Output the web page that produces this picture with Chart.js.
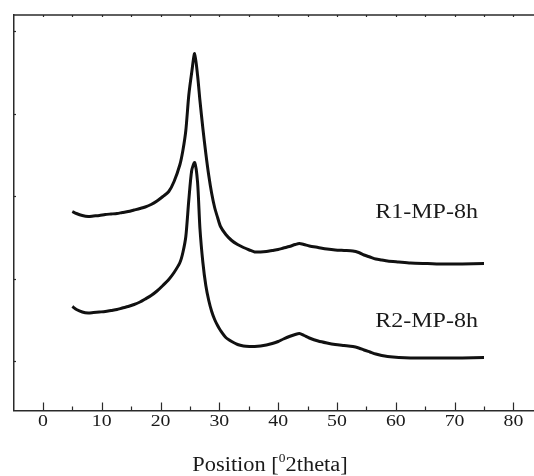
<!DOCTYPE html>
<html>
<head>
<meta charset="utf-8">
<script src="https://cdn.jsdelivr.net/npm/chart.js@4.4.1/dist/chart.umd.min.js"></script>
<style>
  html, body { margin: 0; padding: 0; background: #fff; }
  #wrap { width: 534px; height: 476px; font-family: 'Liberation Serif', serif; }
</style>
</head>
<body>
<div id="wrap"><canvas id="xrd"></canvas></div>
<script>
// ── Data (intensity in arbitrary units) ──
const twoTheta = [5.0, 5.7, 6.7, 7.7, 8.6, 9.6, 10.6, 11.6, 12.6, 13.5,
  14.5, 15.5, 16.5, 17.4, 18.4, 19.4, 20.4, 21.4, 22.3, 23.3,
  23.8, 24.3, 24.8, 25.3, 25.8, 26.3, 26.7, 27.2, 27.7, 28.2,
  28.7, 29.2, 29.7, 30.2, 31.1, 32.1, 33.1, 34.1, 35.1, 36.0,
  37.0, 38.0, 39.0, 40.0, 40.9, 41.9, 42.9, 43.6, 44.4, 45.3,
  46.8, 48.3, 49.7, 51.2, 52.7, 53.7, 54.6, 55.6, 56.6, 57.6,
  58.6, 60.5, 62.5, 65.4, 68.3, 71.3, 75.0];

const r1 = [199, 197, 195, 194, 194.5, 195, 196, 196.5, 197, 198,
  199, 200.5, 202, 203.5, 206, 209.5, 214, 219, 229, 246,
  260, 280, 315, 338, 357, 335, 310, 282, 257, 235,
  217, 203, 193, 184, 176, 170, 166, 163, 160.5, 158.5,
  158.5, 159, 160, 161, 162.5, 164, 166, 167, 166, 164.5,
  163, 161.5, 160.5, 160, 159.5, 158, 155.5, 153.5, 151.5, 150.5,
  149.5, 148.5, 147.5, 147, 146.5, 146.5, 147];

const r2 = [104, 101, 98.5, 97.5, 98, 98.5, 99, 100, 101, 102.5,
  104, 106, 108.5, 111.5, 115, 119.5, 125, 131, 138, 148,
  158, 174, 210, 240, 248, 228, 182, 148, 125, 110,
  99, 91, 85, 80, 73, 69, 66, 64.5, 64, 64,
  64.5, 65.5, 67, 69, 71.5, 74, 76, 77, 75, 72.5,
  69.5, 67.5, 66, 65, 64, 62.5, 60.5, 58.5, 56.5, 55,
  54, 53, 52.5, 52.5, 52.5, 52.5, 53];

const seriesNames = ['R1-MP-8h', 'R2-MP-8h'];
const xTicks = [0, 10, 20, 30, 40, 50, 60, 70, 80];
const xMinorTicks = [5, 15, 25, 35, 45, 55, 65, 75];
const yTicks = [49.5, 132, 214.5, 297, 379.5];

// ── Styling ─────────────────────────────────
const ink = '#1a1a1a';
const FONT = "'Liberation Serif', serif";
const SX = 1.2; // the reference text is a little stretched sideways

function stretchedText(ctx, str, x, y, size, align, sx = SX) {
  ctx.save();
  ctx.font = `${size}px ${FONT}`;
  const w = ctx.measureText(str).width * sx;
  let left = x;
  if (align === 'center') left = x - w / 2;
  if (align === 'right') left = x - w;
  ctx.translate(left, y);
  ctx.scale(sx, 1);
  ctx.fillStyle = ink;
  ctx.textAlign = 'left';
  ctx.textBaseline = 'alphabetic';
  ctx.fillText(str, 0, 0);
  ctx.restore();
  return w;
}

function textWidth(ctx, str, size, sx = SX) {
  ctx.save();
  ctx.font = `${size}px ${FONT}`;
  const w = ctx.measureText(str).width * sx;
  ctx.restore();
  return w;
}

// frame, inward tick marks and all the text
const framePlugin = {
  id: 'frame',
  afterDraw(chart) {
    const { ctx, chartArea: a, scales: { x, y } } = chart;
    ctx.save();
    ctx.strokeStyle = '#2a2a2a';
    ctx.lineWidth = 1.5;

    // top border
    ctx.beginPath();
    ctx.moveTo(a.left, a.top);
    ctx.lineTo(a.right, a.top);
    ctx.stroke();

    // x ticks (bottom: pointing up, top: tiny, pointing down)
    ctx.lineWidth = 1.2;
    xTicks.concat(xMinorTicks).forEach(v => {
      const px = Math.round(x.getPixelForValue(v)) + 0.5;
      const len = xTicks.includes(v) ? 8 : 4;
      ctx.beginPath();
      ctx.moveTo(px, a.bottom);
      ctx.lineTo(px, a.bottom - len);
      ctx.moveTo(px, a.top);
      ctx.lineTo(px, a.top + 2);
      ctx.stroke();
    });

    // y ticks: tiny, pointing right
    yTicks.forEach(v => {
      const py = Math.round(y.getPixelForValue(v)) + 0.5;
      ctx.beginPath();
      ctx.moveTo(a.left, py);
      ctx.lineTo(a.left + 2.5, py);
      ctx.stroke();
    });
    ctx.restore();

    // x tick labels
    xTicks.forEach(v => {
      stretchedText(ctx, String(v), x.getPixelForValue(v), a.bottom + 15.5, 16.5, 'center');
    });

    // axis title with superscript
    const big = 20, small = 12, tsx = 1.12;
    const p1 = 'Position [', p2 = '0', p3 = '2theta]';
    const total = textWidth(ctx, p1, big, tsx) + textWidth(ctx, p2, small, tsx) + textWidth(ctx, p3, big, tsx);
    let cx = 270 - total / 2;
    const base = 471;
    cx += stretchedText(ctx, p1, cx, base, big, 'left', tsx);
    cx += stretchedText(ctx, p2, cx, base - 9, small, 'left', tsx);
    stretchedText(ctx, p3, cx, base, big, 'left', tsx);

    // series labels
    stretchedText(ctx, seriesNames[0], x.getPixelForValue(56.5), y.getPixelForValue(192.5), 20, 'left');
    stretchedText(ctx, seriesNames[1], x.getPixelForValue(56.5), y.getPixelForValue(83.5), 20, 'left');
  }
};

const toPoints = ys => twoTheta.map((t, i) => ({ x: t, y: ys[i] }));

function drawChart() {
  new Chart(document.getElementById('xrd'), {
    type: 'line',
    data: {
      datasets: [
        { label: seriesNames[0], data: toPoints(r1) },
        { label: seriesNames[1], data: toPoints(r2) }
      ].map(d => Object.assign(d, {
        borderColor: '#111', borderWidth: 3,
        pointRadius: 0, tension: 0.25, fill: false
      }))
    },
    options: {
      responsive: true, maintainAspectRatio: false,
      animation: false,
      layout: { padding: { left: 13.5, top: 15, right: 0, bottom: 65.5 } },
      plugins: { legend: { display: false }, tooltip: { enabled: false } },
      scales: {
        x: {
          type: 'linear', min: -5, max: 83.5,
          grid: { display: false, drawTicks: false },
          ticks: { display: false },
          border: { display: true, color: '#2a2a2a', width: 1.5 }
        },
        y: {
          min: 0, max: 395.5,
          grid: { display: false, drawTicks: false },
          ticks: { display: false },
          border: { display: true, color: '#2a2a2a', width: 1.5 }
        }
      }
    },
    plugins: [framePlugin]
  });
}

if (document.fonts && document.fonts.load) {
  document.fonts.load("20px 'Liberation Serif'").then(drawChart, drawChart);
} else {
  drawChart();
}
</script>
</body>
</html>
